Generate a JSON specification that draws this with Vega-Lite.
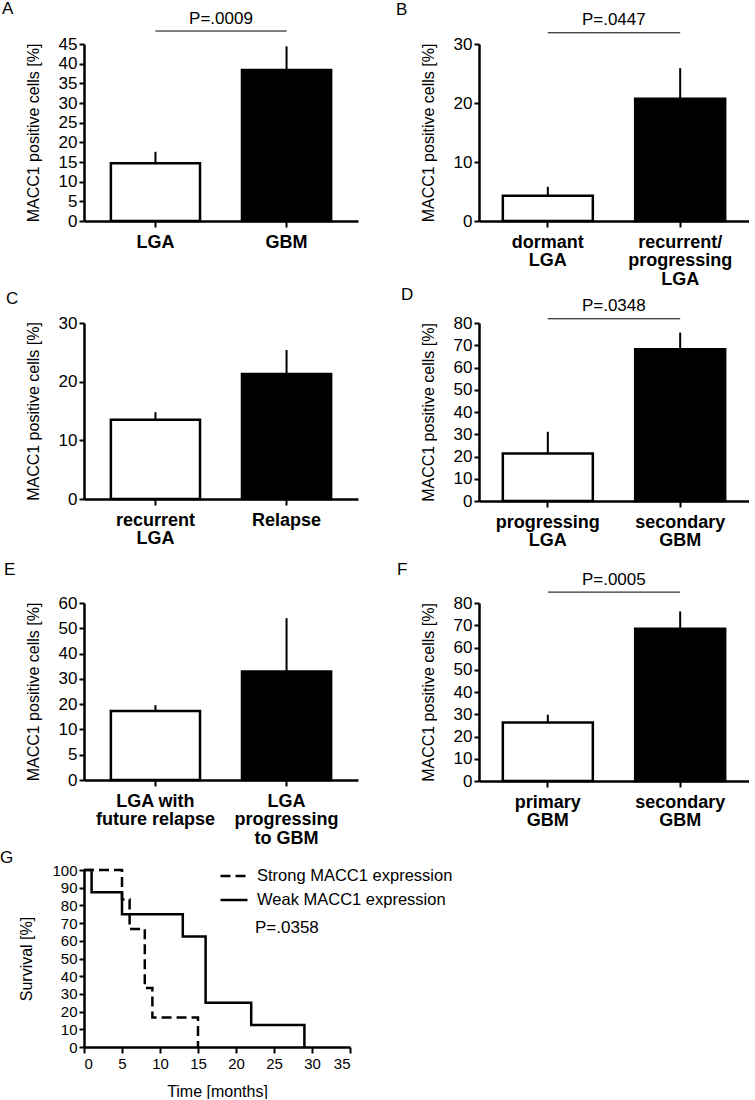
{
  "$schema": "https://vega.github.io/schema/vega-lite/v6.json",
  "background": "white",
  "padding": {"left": 0, "top": 0, "right": 0, "bottom": 0},
  "config": {
    "font": "Liberation Sans",
    "view": {"stroke": null},
    "title": {"anchor": "start", "frame": "group", "fontSize": 17, "fontWeight": "normal", "color": "black", "offset": 0},
    "axis": {
      "grid": false, "domainColor": "black", "domainWidth": 2.5, "tickColor": "black", "tickWidth": 2, "tickSize": 5,
      "labelColor": "black", "labelFontSize": 17, "labelPadding": 2, "titleFontSize": 16, "titleFontWeight": "normal",
      "titleColor": "black", "titlePadding": 17, "labelOverlap": false
    },
    "axisX": {
      "labelAngle": 0, "labelFontWeight": "bold", "labelFontSize": 18, "labelLineHeight": 18.5, "labelBaseline": "top",
      "tickSize": 6, "labelPadding": 6, "labelOverlap": false, "labelExpr": "split(datum.label, '\\n')"
    }
  },
  "spacing": 2,
  "bounds": "full",
  "vconcat": [
    {
      "columns": 2,
      "bounds": "flush",
      "spacing": {"row": 102, "column": 121},
      "concat": [
        {
          "title": {"text": "A", "dx": -82, "dy": 12},
          "width": 274, "height": 177,
          "data": {"values": [
            {"group": "LGA", "mean": 14.7, "upper": 17.6, "shade": "open", "p": "P=.0009", "pTo": "GBM"},
            {"group": "GBM", "mean": 38.4, "upper": 44.4, "shade": "solid"}
          ]},
          "encoding": {
            "x": {"field": "group", "type": "nominal", "sort": null, "scale": {"paddingInner": 0.32, "paddingOuter": 0.205}, "axis": {"title": null}},
            "y": {"field": "mean", "type": "quantitative", "scale": {"domain": [0, 45], "nice": false}, "axis": {"values": [0, 5, 10, 15, 20, 25, 30, 35, 40, 45], "title": "MACC1 positive cells [%]"}}
          },
          "layer": [
            {"mark": {"type": "bar", "stroke": "black", "strokeWidth": 2.5}, "encoding": {"fill": {"field": "shade", "type": "nominal", "scale": {"domain": ["open", "solid"], "range": ["white", "black"]}, "legend": null}}},
            {"mark": {"type": "rule", "color": "black", "strokeWidth": 2}, "encoding": {"y2": {"field": "upper"}}},
            {"transform": [{"filter": "isValid(datum.p)"}],
             "mark": {"type": "rule", "color": "black", "strokeWidth": 1, "clip": false},
             "encoding": {"x2": {"field": "pTo"}, "y": {"datum": 48.3, "type": "quantitative"}}},
            {"transform": [{"filter": "isValid(datum.p)"}],
             "mark": {"type": "text", "dx": 65.5, "fontSize": 17, "baseline": "alphabetic", "color": "black", "clip": false},
             "encoding": {"y": {"datum": 50, "type": "quantitative"}, "text": {"field": "p"}}}
          ]
        },
        {
          "title": {"text": "B", "dx": -83, "dy": 12},
          "width": 270, "height": 177,
          "data": {"values": [
            {"group": "dormant\nLGA", "mean": 4.3, "upper": 5.8, "shade": "open", "p": "P=.0447", "pTo": "recurrent/\nprogressing\nLGA"},
            {"group": "recurrent/\nprogressing\nLGA", "mean": 20.7, "upper": 25.9, "shade": "solid"}
          ]},
          "encoding": {
            "x": {"field": "group", "type": "nominal", "sort": null, "scale": {"paddingInner": 0.32, "paddingOuter": 0.18}, "axis": {"title": null}},
            "y": {"field": "mean", "type": "quantitative", "scale": {"domain": [0, 30], "nice": false}, "axis": {"values": [0, 10, 20, 30], "title": "MACC1 positive cells [%]"}}
          },
          "layer": [
            {"mark": {"type": "bar", "stroke": "black", "strokeWidth": 2.5}, "encoding": {"fill": {"field": "shade", "type": "nominal", "scale": {"domain": ["open", "solid"], "range": ["white", "black"]}, "legend": null}}},
            {"mark": {"type": "rule", "color": "black", "strokeWidth": 2}, "encoding": {"y2": {"field": "upper"}}},
            {"transform": [{"filter": "isValid(datum.p)"}],
             "mark": {"type": "rule", "color": "black", "strokeWidth": 1, "clip": false},
             "encoding": {"x2": {"field": "pTo"}, "y": {"datum": 31.9, "type": "quantitative"}}},
            {"transform": [{"filter": "isValid(datum.p)"}],
             "mark": {"type": "text", "dx": 66, "fontSize": 17, "baseline": "alphabetic", "color": "black", "clip": false},
             "encoding": {"y": {"datum": 33.3, "type": "quantitative"}, "text": {"field": "p"}}}
          ]
        },
        {
          "title": {"text": "C", "dx": -78, "dy": -2},
          "width": 274, "height": 176,
          "data": {"values": [
            {"group": "recurrent\nLGA", "mean": 13.5, "upper": 14.8, "shade": "open"},
            {"group": "Relapse", "mean": 21.3, "upper": 25.4, "shade": "solid"}
          ]},
          "encoding": {
            "x": {"field": "group", "type": "nominal", "sort": null, "scale": {"paddingInner": 0.32, "paddingOuter": 0.205}, "axis": {"title": null}},
            "y": {"field": "mean", "type": "quantitative", "scale": {"domain": [0, 30], "nice": false}, "axis": {"values": [0, 10, 20, 30], "title": "MACC1 positive cells [%]"}}
          },
          "layer": [
            {"mark": {"type": "bar", "stroke": "black", "strokeWidth": 2.5}, "encoding": {"fill": {"field": "shade", "type": "nominal", "scale": {"domain": ["open", "solid"], "range": ["white", "black"]}, "legend": null}}},
            {"mark": {"type": "rule", "color": "black", "strokeWidth": 2}, "encoding": {"y2": {"field": "upper"}}}
          ]
        },
        {
          "title": {"text": "D", "dx": -78, "dy": 11},
          "width": 270, "height": 178,
          "data": {"values": [
            {"group": "progressing\nLGA", "mean": 21.4, "upper": 31.1, "shade": "open", "p": "P=.0348", "pTo": "secondary\nGBM"},
            {"group": "secondary\nGBM", "mean": 68.2, "upper": 75.7, "shade": "solid"}
          ]},
          "encoding": {
            "x": {"field": "group", "type": "nominal", "sort": null, "scale": {"paddingInner": 0.32, "paddingOuter": 0.18}, "axis": {"title": null}},
            "y": {"field": "mean", "type": "quantitative", "scale": {"domain": [0, 80], "nice": false}, "axis": {"values": [0, 10, 20, 30, 40, 50, 60, 70, 80], "title": "MACC1 positive cells [%]"}}
          },
          "layer": [
            {"mark": {"type": "bar", "stroke": "black", "strokeWidth": 2.5}, "encoding": {"fill": {"field": "shade", "type": "nominal", "scale": {"domain": ["open", "solid"], "range": ["white", "black"]}, "legend": null}}},
            {"mark": {"type": "rule", "color": "black", "strokeWidth": 2}, "encoding": {"y2": {"field": "upper"}}},
            {"transform": [{"filter": "isValid(datum.p)"}],
             "mark": {"type": "rule", "color": "black", "strokeWidth": 1, "clip": false},
             "encoding": {"x2": {"field": "pTo"}, "y": {"datum": 81.9, "type": "quantitative"}}},
            {"transform": [{"filter": "isValid(datum.p)"}],
             "mark": {"type": "text", "dx": 66, "fontSize": 17, "baseline": "alphabetic", "color": "black", "clip": false},
             "encoding": {"y": {"datum": 85.2, "type": "quantitative"}, "text": {"field": "p"}}}
          ]
        },
        {
          "title": {"text": "E", "dx": -80, "dy": -11},
          "width": 274, "height": 177,
          "data": {"values": [
            {"group": "LGA with\nfuture relapse", "mean": 17.3, "upper": 19.6, "shade": "open"},
            {"group": "LGA\nprogressing\nto GBM", "mean": 32.9, "upper": 54, "shade": "solid"}
          ]},
          "encoding": {
            "x": {"field": "group", "type": "nominal", "sort": null, "scale": {"paddingInner": 0.32, "paddingOuter": 0.205}, "axis": {"title": null}},
            "y": {"field": "mean", "type": "quantitative", "scale": {"domain": [0, 10, 60], "range": [177, 126.4, 0]}, "axis": {"values": [0, 5, 10, 20, 30, 40, 50, 60], "title": "MACC1 positive cells [%]"}}
          },
          "layer": [
            {"mark": {"type": "bar", "stroke": "black", "strokeWidth": 2.5}, "encoding": {"fill": {"field": "shade", "type": "nominal", "scale": {"domain": ["open", "solid"], "range": ["white", "black"]}, "legend": null}}},
            {"mark": {"type": "rule", "color": "black", "strokeWidth": 2}, "encoding": {"y2": {"field": "upper"}}}
          ]
        },
        {
          "title": {"text": "F", "dx": -82, "dy": 12},
          "width": 270, "height": 178,
          "data": {"values": [
            {"group": "primary\nGBM", "mean": 26.3, "upper": 29.8, "shade": "open", "p": "P=.0005", "pTo": "secondary\nGBM"},
            {"group": "secondary\nGBM", "mean": 68.4, "upper": 76.2, "shade": "solid"}
          ]},
          "encoding": {
            "x": {"field": "group", "type": "nominal", "sort": null, "scale": {"paddingInner": 0.32, "paddingOuter": 0.18}, "axis": {"title": null}},
            "y": {"field": "mean", "type": "quantitative", "scale": {"domain": [0, 80], "nice": false}, "axis": {"values": [0, 10, 20, 30, 40, 50, 60, 70, 80], "title": "MACC1 positive cells [%]"}}
          },
          "layer": [
            {"mark": {"type": "bar", "stroke": "black", "strokeWidth": 2.5}, "encoding": {"fill": {"field": "shade", "type": "nominal", "scale": {"domain": ["open", "solid"], "range": ["white", "black"]}, "legend": null}}},
            {"mark": {"type": "rule", "color": "black", "strokeWidth": 2}, "encoding": {"y2": {"field": "upper"}}},
            {"transform": [{"filter": "isValid(datum.p)"}],
             "mark": {"type": "rule", "color": "black", "strokeWidth": 1, "clip": false},
             "encoding": {"x2": {"field": "pTo"}, "y": {"datum": 84.9, "type": "quantitative"}}},
            {"transform": [{"filter": "isValid(datum.p)"}],
             "mark": {"type": "text", "dx": 66, "fontSize": 17, "baseline": "alphabetic", "color": "black", "clip": false},
             "encoding": {"y": {"datum": 88.1, "type": "quantitative"}, "text": {"field": "p"}}}
          ]
        }
      ]
    },
    {
      "title": {"text": "G", "dx": -84, "dy": 8},
      "width": 266, "height": 177,
      "data": {"values": [
        {"group": "Strong MACC1 expression", "time": 0, "survival": 100, "p": "P=.0358"},
        {"group": "Strong MACC1 expression", "time": 5, "survival": 83.3},
        {"group": "Strong MACC1 expression", "time": 6, "survival": 66.7},
        {"group": "Strong MACC1 expression", "time": 8, "survival": 33.3},
        {"group": "Strong MACC1 expression", "time": 9, "survival": 16.7},
        {"group": "Strong MACC1 expression", "time": 15, "survival": 0},
        {"group": "Weak MACC1 expression", "time": 0, "survival": 100},
        {"group": "Weak MACC1 expression", "time": 1, "survival": 87.5},
        {"group": "Weak MACC1 expression", "time": 5, "survival": 75},
        {"group": "Weak MACC1 expression", "time": 13, "survival": 62.5},
        {"group": "Weak MACC1 expression", "time": 16, "survival": 25},
        {"group": "Weak MACC1 expression", "time": 22, "survival": 12.5},
        {"group": "Weak MACC1 expression", "time": 29, "survival": 0}
      ]},
      "encoding": {
        "x": {"field": "time", "type": "quantitative", "scale": {"domain": [0, 35], "nice": false},
              "axis": {"values": [0, 5, 10, 15, 20, 25, 30, 35], "title": "Time [months]", "labelFontWeight": "normal", "labelFontSize": 15, "labelPadding": 3, "titlePadding": 12, "labelExpr": "datum.label", "labelOverlap": false}},
        "y": {"field": "survival", "type": "quantitative", "scale": {"domain": [0, 100], "nice": false},
              "axis": {"values": [0, 10, 20, 30, 40, 50, 60, 70, 80, 90, 100], "title": "Survival [%]", "labelFontSize": 15, "labelOverlap": false}}
      },
      "layer": [
        {
          "mark": {"type": "line", "interpolate": "step-after", "strokeWidth": 2.5, "color": "black"},
          "encoding": {
            "strokeDash": {"field": "group", "type": "nominal",
              "scale": {"domain": ["Strong MACC1 expression", "Weak MACC1 expression"], "range": [[10, 5], [1, 0]]},
              "legend": {"title": null, "orient": "none", "legendX": 135, "legendY": 817, "symbolType": "stroke", "symbolSize": 729,
                         "symbolStrokeWidth": 2.5, "symbolStrokeColor": "black", "labelFontSize": 16.5, "labelColor": "black",
                         "labelOffset": 8, "rowPadding": -10, "labelLimit": 400}}
          }
        },
        {
          "transform": [{"filter": "isValid(datum.p)"}],
          "mark": {"type": "text", "align": "left", "baseline": "alphabetic", "fontSize": 17, "color": "black"},
          "encoding": {"x": {"datum": 22.5, "type": "quantitative"}, "y": {"datum": 64.4, "type": "quantitative"}, "text": {"field": "p"}}
        }
      ]
    }
  ]
}
